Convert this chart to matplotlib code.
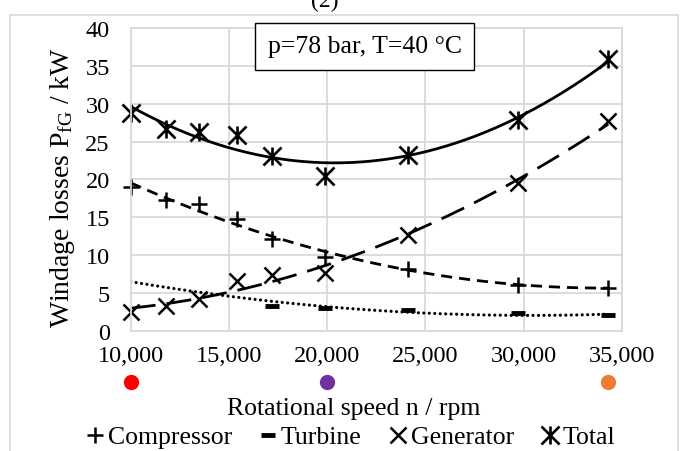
import numpy as np
import matplotlib
matplotlib.use("Agg")
import matplotlib.pyplot as plt
from matplotlib.path import Path
from matplotlib.patches import Rectangle
import matplotlib.transforms as mtransforms

plt.rcParams['font.family'] = ['Liberation Serif', 'DejaVu Serif']
plt.rcParams['mathtext.fontset'] = 'custom'
plt.rcParams['mathtext.rm'] = 'Liberation Serif'
plt.rcParams['mathtext.it'] = 'Liberation Serif:italic'

# ---- data ----
speed = [10000, 11800, 13500, 15400, 17200, 19900, 24100, 29700, 34300]
compressor = [19.0, 17.3, 16.7, 14.8, 12.1, 9.7, 8.1, 6.1, 5.7]
generator = [2.5, 3.3, 4.2, 6.6, 7.3, 7.6, 12.6, 19.5, 27.7]
total = [28.8, 26.7, 26.3, 25.9, 23.1, 20.4, 23.2, 27.9, 35.9]
turbine_speed = [17200, 19900, 24100, 29700, 34300]
turbine = [3.2, 3.0, 2.8, 2.3, 2.1]
# turbine trendline coefficients (speed in 1000 rpm)
turbine_trend_coef = [0.0108, -0.655, 11.95]

dot_speeds = [10000, 20000, 34300]
dot_colors = ['#ff0000', '#7030a0', '#ed7d31']

xticks = [10000, 15000, 20000, 25000, 30000, 35000]
xtick_labels = ['10,000', '15,000', '20,000', '25,000', '30,000', '35,000']
yticks = [0, 5, 10, 15, 20, 25, 30, 35, 40]

W, H = 682, 452
fig = plt.figure(figsize=(W / 100, H / 100), dpi=100)

# chart border
fig.patches.append(Rectangle((10 / W, -0.05), 668 / W, 1 - 16 / H + 0.05,
                             transform=fig.transFigure, fill=False,
                             edgecolor='#d9d9d9', lw=1.2))

ax = fig.add_axes([130.7 / W, 1 - 331.7 / H, (622 - 130.7) / W, (331.7 - 29) / H])
ax.set_xlim(10000, 35000)
ax.set_ylim(0, 40)
ax.set_xticks(xticks)
ax.set_xticklabels(xtick_labels)
ax.set_yticks(yticks)
ax.grid(True, color='#d9d9d9', lw=1.3)
ax.set_axisbelow(True)
for s in ax.spines.values():
    s.set_color('#d9d9d9')
    s.set_linewidth(1.3)
ax.tick_params(length=0, labelsize=17.5)
ax.tick_params(axis='x', pad=10)
ax.tick_params(axis='y', pad=15)

# asterisk marker: X plus vertical line
ast = Path([(-1, -1), (1, 1), (-1, 1), (1, -1), (0, -1), (0, 1)],
           [Path.MOVETO, Path.LINETO] * 3)

xs = np.linspace(10000, 34300, 200)
k = xs / 1000.0
sp = np.array(speed) / 1000.0

def trend(y):
    c = np.polyfit(sp, y, 2)
    return np.polyval(c, k)

lw = 2.0
ax.plot(xs, trend(total), color='black', lw=lw, solid_capstyle='butt')
ax.plot(xs, trend(compressor), color='black', lw=lw, dashes=(4, 2.5))
ax.plot(xs, trend(generator), color='black', lw=lw, dashes=(9, 4))
ax.plot(xs, np.polyval(turbine_trend_coef, k), color='black', lw=2.3,
        linestyle=(0, (0.01, 1.7)), dash_capstyle='round')

ax.plot(speed, compressor, ls='none', marker='+', ms=12, mew=1.8, color='black',
        label='Compressor', clip_on=False)
ax.plot(turbine_speed, turbine, ls='none', marker='_', ms=10, mew=3.5, color='black',
        label='Turbine', clip_on=False)
ax.plot(speed, generator, ls='none', marker='x', ms=12, mew=1.8, color='black',
        label='Generator', clip_on=False)
ax.plot(speed, total, ls='none', marker=ast, ms=13, mew=1.9, color='black',
        label='Total', clip_on=False)

# colored dots under the x axis
tr = mtransforms.blended_transform_factory(ax.transData, ax.transAxes)
for xv, c in zip(dot_speeds, dot_colors):
    ax.plot([xv], [-(383 - 331.7) / (331.7 - 29)], 'o', ms=11, color=c,
            transform=tr, clip_on=False, mec='none')

# text box
fig.text(364.5 / W, 1 - 47.5 / H, 'p=78 bar, T=40 °C', ha='center', va='center',
         fontsize=18.5,
         bbox=dict(boxstyle='square,pad=0.5', fc='white', ec='black', lw=1.0))

fig.text(325 / W, 1 - 1 / H, '(2)', ha='center', va='center', fontsize=17)

fig.text(63 / W, 1 - 188 / H, r'Windage losses P$_{\mathrm{fG}}$ / kW', rotation=90,
         ha='center', va='center', fontsize=20)
fig.text(354 / W, 1 - 409 / H, 'Rotational speed n / rpm', ha='center', va='center',
         fontsize=18.5)

fig.legend(loc='center', bbox_to_anchor=(350 / W, 1 - 438 / H), ncol=4,
           frameon=False, fontsize=18.5, handlelength=0.8, handletextpad=0.1,
           columnspacing=1.0, borderaxespad=0, borderpad=0)

fig.savefig('out.png', dpi=100)
